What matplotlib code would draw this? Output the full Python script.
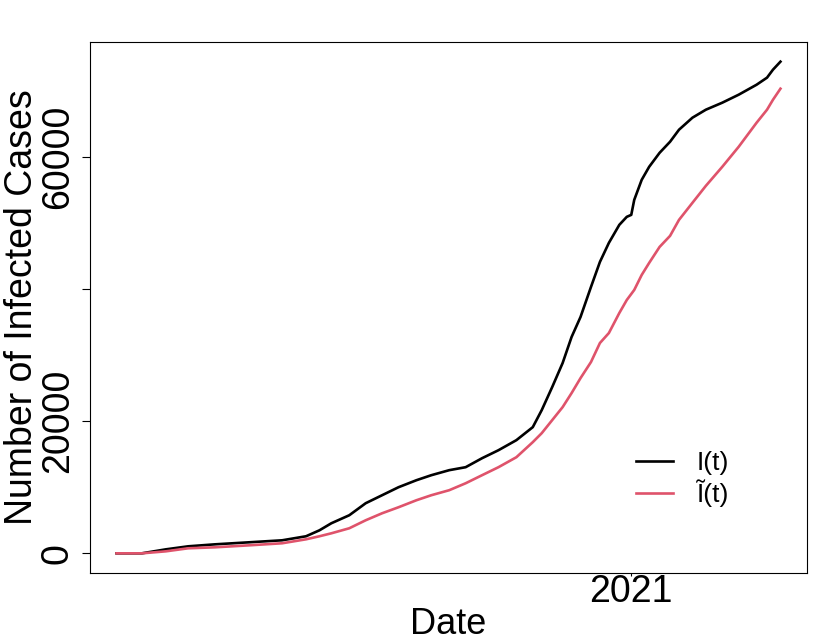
import numpy as np
import pandas as pd
import matplotlib
matplotlib.use('Agg')
import matplotlib.pyplot as plt
import matplotlib.dates as mdates

plt.rcParams['font.family'] = ['Liberation Sans', 'DejaVu Sans']

# dates
dates = ['2020-01-22', '2020-02-08', '2020-02-24', '2020-03-10', '2020-03-28',
         '2020-04-20', '2020-05-12', '2020-05-28', '2020-06-06', '2020-06-14',
         '2020-06-26', '2020-07-07', '2020-07-18', '2020-07-29', '2020-08-10',
         '2020-08-20', '2020-09-01', '2020-09-12', '2020-09-23', '2020-10-04',
         '2020-10-16', '2020-10-27', '2020-11-02', '2020-11-09', '2020-11-16',
         '2020-11-22', '2020-11-28', '2020-12-05', '2020-12-11', '2020-12-17',
         '2020-12-24', '2020-12-29', '2021-01-01', '2021-01-03', '2021-01-08',
         '2021-01-13', '2021-01-20', '2021-01-27', '2021-02-02', '2021-02-11',
         '2021-02-20', '2021-03-03', '2021-03-14', '2021-03-26', '2021-04-02',
         '2021-04-06', '2021-04-11']

# observed cases I(t)
infected = [0, 0, 600, 1060, 1360, 1670, 1970, 2580, 3480, 4550,
            5760, 7580, 8790, 10000, 11060, 11820, 12580, 13030, 14390, 15600,
            17120, 19090, 21670, 25150, 28790, 32730, 35760, 40300, 44090, 46970,
            49700, 50910, 51210, 53480, 56510, 58480, 60600, 62270, 64090, 65910,
            67120, 68180, 69390, 70900, 71970, 73180, 74390]

# fitted cases I~(t)
fitted = [0, 0, 300, 760, 910, 1210, 1520, 2120, 2580, 3030,
          3790, 5000, 6060, 6970, 8030, 8790, 9550, 10600, 11820, 13030,
          14540, 16820, 18180, 20150, 22120, 24240, 26510, 28940, 31820, 33330,
          36360, 38330, 39240, 39850, 42120, 43940, 46360, 48030, 50450, 53030,
          55600, 58480, 61510, 65150, 67120, 68630, 70300]

yticks = [0, 20000, 40000, 60000]
ytick_labels = ['0', '20000', '', '60000']

d = pd.to_datetime(dates)

fig = plt.figure(figsize=(8.3, 6.42), dpi=100)
ax = fig.add_axes([0.1084, 0.1075, 0.8639, 0.8271])

ax.plot(d, infected, color='black', lw=1.9, label='I(t)')
ax.plot(d, fitted, color='#DF536B', lw=1.9, label='\u0128(t)')
ax.margins(x=0.04, y=0.04)

ax.xaxis.set_major_locator(mdates.YearLocator())
ax.xaxis.set_major_formatter(mdates.DateFormatter('%Y'))
ax.set_yticks(yticks)
ax.set_yticklabels(ytick_labels)
for lbl in ax.get_yticklabels():
    lbl.set_rotation(90)
    lbl.set_va('center')

ax.tick_params(axis='y', labelsize=27, length=6, width=0.8, pad=4.3)
ax.tick_params(axis='x', labelsize=27, length=2.5, width=0.8, pad=-1.5)
for s in ax.spines.values():
    s.set_linewidth(0.8)

ax.set_xlabel('Date', fontsize=26, va='baseline')
ax.set_ylabel('Number of Infected Cases', fontsize=27, va='center')
ax.xaxis.set_label_coords(0.5, -0.115)
ax.yaxis.set_label_coords(-0.0948, 0.5)

ax.legend(loc='center left', bbox_to_anchor=(0.7615, 0.177), frameon=False,
          fontsize=19, handlelength=1.4, handletextpad=0.9, labelspacing=0.15,
          borderpad=0, borderaxespad=0)

plt.savefig('out.png', dpi=100)
